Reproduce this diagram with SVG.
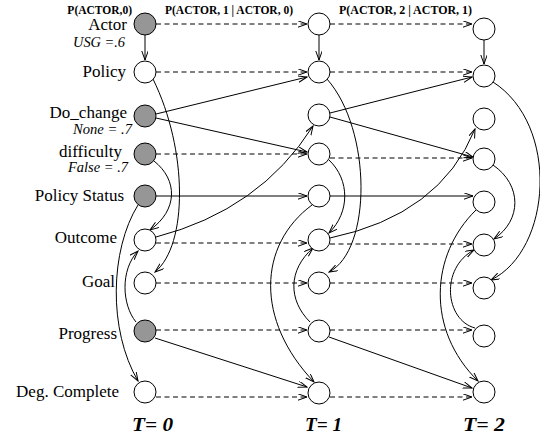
<svg xmlns="http://www.w3.org/2000/svg" width="540" height="438" viewBox="0 0 540 438">
<defs>
<marker id="ah" markerUnits="userSpaceOnUse" markerWidth="10" markerHeight="8" refX="9" refY="3.2" orient="auto">
<path d="M0,0 L9,3.2 L0,6.4" fill="none" stroke="#000" stroke-width="1"/>
</marker>
</defs>
<style>
.n{fill:#fff;stroke:#000;stroke-width:1}
.g{fill:#969696;stroke:#000;stroke-width:1}
text{font-family:'Liberation Serif','Times New Roman',Times,'DejaVu Serif',serif;fill:#000}
.lb{font-size:17px;text-anchor:end}
.it{font-style:italic;font-size:14px;text-anchor:end}
.hd{font-weight:bold;font-size:11.5px}
.tt{font-weight:bold;font-style:italic;font-size:19px}
.c path{fill:none;stroke:#000;stroke-width:1;marker-end:url(#ah)}
.c path.d{stroke-dasharray:5,3.5}
</style>
<rect width="540" height="438" fill="#fff"/>

<g id="headers" font-family="Liberation Serif, serif">
<text class="hd" x="132" y="14" text-anchor="end">P(ACTOR,0)</text>
<text class="hd" x="165" y="14" textLength="128" lengthAdjust="spacingAndGlyphs">P(ACTOR, 1 | ACTOR, 0)</text>
<text class="hd" x="339" y="14" textLength="133" lengthAdjust="spacingAndGlyphs">P(ACTOR, 2 | ACTOR, 1)</text>
</g>

<g id="labels" font-family="Liberation Serif, serif">
<text class="lb" x="127" y="30">Actor</text>
<text class="it" x="125" y="47" font-size="12.5" textLength="52" lengthAdjust="spacingAndGlyphs">USG =.6</text>
<text class="lb" x="126" y="77">Policy</text>
<text class="lb" x="127" y="118">Do_change</text>
<text class="it" x="132" y="134" textLength="59" lengthAdjust="spacingAndGlyphs">None = .7</text>
<text class="lb" x="122" y="157">difficulty</text>
<text class="it" x="128" y="172" textLength="60" lengthAdjust="spacingAndGlyphs">False = .7</text>
<text class="lb" x="124" y="201">Policy Status</text>
<text class="lb" x="117" y="243">Outcome</text>
<text class="lb" x="115" y="287">Goal</text>
<text class="lb" x="117" y="339">Progress</text>
<text class="lb" x="119" y="397">Deg. Complete</text>
</g>

<g id="time-labels" font-family="Liberation Serif, serif">
<text class="tt" x="132" y="431" textLength="41" lengthAdjust="spacingAndGlyphs">T= 0</text>
<text class="tt" x="305" y="431" textLength="37" lengthAdjust="spacingAndGlyphs">T= 1</text>
<text class="tt" x="463" y="431" textLength="42" lengthAdjust="spacingAndGlyphs">T= 2</text>
</g>

<g id="connectors" class="c">
<path class="d" d="M156,24 H307"/>
<path class="d" d="M330,24 H472"/>
<path class="d" d="M156,72 H307"/>
<path class="d" d="M330,72 H472"/>
<path class="d" d="M156,154 H307"/>
<path class="d" d="M330,158 H472"/>
<path class="d" d="M156,243 H307"/>
<path class="d" d="M330,244 H472"/>
<path class="d" d="M156,283 H307"/>
<path class="d" d="M330,283 H472"/>
<path class="d" d="M156,330 H307"/>
<path class="d" d="M330,330 H472"/>
<path class="d" d="M156,397 H307"/>
<path class="d" d="M330,397 H472"/>
<path d="M156,196 H307"/>
<path d="M330,196 H473"/>
<path d="M145,35 V60"/>
<path d="M319,35 V60"/>
<path d="M484,40 V64"/>
<path d="M156,114 L307,77"/>
<path d="M156,118 L307,152"/>
<path d="M330,113 L472,77"/>
<path d="M330,117 L473,157"/>
<path d="M155,338 L307,387"/>
<path d="M329,337 L472,388"/>
<path d="M156,237 Q260,210 313,126"/>
<path d="M330,238 Q440,215 475,129"/>
<path d="M153,79 C188,150 188,245 155,272"/>
<path d="M154,161 C178,180 178,210 150,230"/>
<path d="M138,205 C110,250 108,330 138,381"/>
<path d="M136,322 C122,305 120,270 138,251"/>
<path d="M327,79 C372,130 372,250 329,272"/>
<path d="M329,160 C350,180 350,212 329,233"/>
<path d="M312,205 C258,245 255,320 314,382"/>
<path d="M310,322 C288,300 288,270 313,248"/>
<path d="M493,82 C560,125 552,250 491,280"/>
<path d="M493,165 C522,185 522,220 494,239"/>
<path d="M476,210 C430,255 426,330 478,381"/>
<path d="M475,328 C445,320 440,268 474,250"/>
</g>

<g id="t0">
<circle id="actor0" class="g" cx="145" cy="24" r="11"/>
<circle id="policy0" class="n" cx="145" cy="72" r="11"/>
<circle id="dochange0" class="g" cx="145" cy="116" r="11"/>
<circle id="difficulty0" class="g" cx="145" cy="154" r="11"/>
<circle id="status0" class="g" cx="145" cy="196" r="11"/>
<circle id="outcome0" class="n" cx="145" cy="240" r="11"/>
<circle id="goal0" class="n" cx="145" cy="283" r="11"/>
<circle id="progress0" class="g" cx="145" cy="331" r="11"/>
<circle id="degc0" class="n" cx="145" cy="392" r="11"/>
</g>
<g id="t1">
<circle id="actor1" class="n" cx="319" cy="24" r="11"/>
<circle id="policy1" class="n" cx="319" cy="72" r="11"/>
<circle id="dochange1" class="n" cx="319" cy="115" r="11"/>
<circle id="difficulty1" class="n" cx="319" cy="154" r="11"/>
<circle id="status1" class="n" cx="319" cy="196" r="11"/>
<circle id="outcome1" class="n" cx="319" cy="240" r="11"/>
<circle id="goal1" class="n" cx="319" cy="283" r="11"/>
<circle id="progress1" class="n" cx="319" cy="331" r="11"/>
<circle id="degc1" class="n" cx="319" cy="393" r="11"/>
</g>
<g id="t2">
<circle id="actor2" class="n" cx="484" cy="29" r="11"/>
<circle id="policy2" class="n" cx="484" cy="76" r="11"/>
<circle id="dochange2" class="n" cx="484" cy="119" r="11"/>
<circle id="difficulty2" class="n" cx="484" cy="159" r="11"/>
<circle id="status2" class="n" cx="484" cy="202" r="11"/>
<circle id="outcome2" class="n" cx="484" cy="245" r="11"/>
<circle id="goal2" class="n" cx="484" cy="288" r="11"/>
<circle id="progress2" class="n" cx="484" cy="336" r="11"/>
<circle id="degc2" class="n" cx="484" cy="392" r="11"/>
</g>
</svg>
